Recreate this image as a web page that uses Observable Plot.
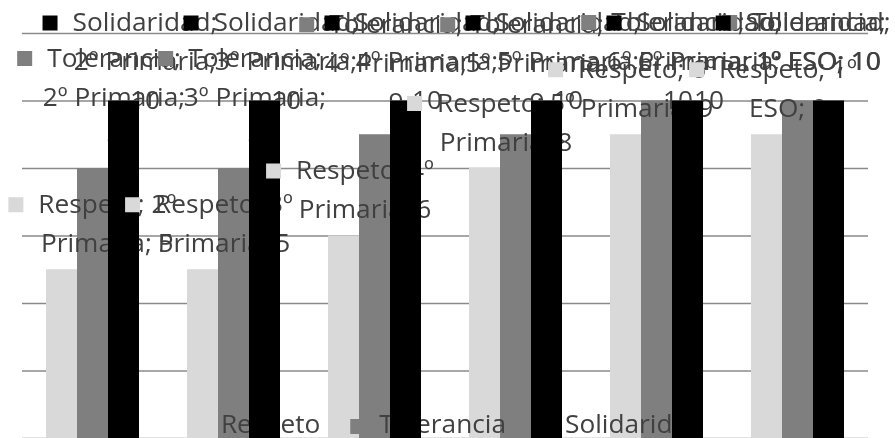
<!DOCTYPE html>
<html><head><meta charset="utf-8">
<script src="https://cdn.jsdelivr.net/npm/d3@7"></script>
<script src="https://cdn.jsdelivr.net/npm/@observablehq/plot@0.6"></script>
<style>html,body{margin:0;padding:0;background:#fff;overflow:hidden}</style>
</head><body><div id="chart"></div>
<script>
// ---- data ----
const categories = ["2º Primaria", "3º Primaria", "4º Primaria", "5º Primaria", "6º Primaria", "1º ESO"];
const seriesNames = ["Respeto", "Tolerancia", "Solidaridad"];
const respeto = [5, 5, 6, 8, 9, 9];
const tolerancia = [8, 8, 9, 9, 10, 10];
const solidaridad = [10, 10, 10, 10, 10, 10];
const yTicks = [0, 2, 4, 6, 8, 10, 12];
const seriesColors = ["#d9d9d9", "#7f7f7f", "#000000"];

// ---- layout ----
const W = 895, H = 438, ML = 20, MR = 25, MT = 33, MB = 0;
const YMAX = 12, OUTER = 0.77;
const FONT = '"Open Sans", "Noto Sans", sans-serif';
const TEXT = "#404040";
const ctx = document.createElement("canvas").getContext("2d");
function measure(t, size) { ctx.font = `${size}px ${FONT}`; return ctx.measureText(t).width; }
const fontSize = 100 * 145 / measure("Solidaridad;", 100);
const mw = t => measure(t, fontSize);

const valuesBySeries = [respeto, tolerancia, solidaridad];
const rows = categories.flatMap((cat, i) => seriesNames.map((s, j) => ({cat, series: s, value: valuesBySeries[j][i], i, j})));

const step = (W - ML - MR) / categories.length;
const bw = step / (seriesNames.length + 2 * OUTER);
const barCenter = (i, j) => ML + i * step + (OUTER + j + 0.5) * bw;
const yPix = v => MT + (YMAX - v) / YMAX * (H - MT - MB);

function wrap(text, maxW) {
  const words = text.split(" "); const lines = []; let cur = "";
  for (const w of words) {
    const test = cur ? cur + " " + w : w;
    if (!cur || mw(test) <= maxW) cur = test; else { lines.push(cur); cur = w; }
  }
  if (cur) lines.push(cur);
  return lines;
}

// offset of the first label line above the bar top, per series
const topOffset = {Respeto: -65, Tolerancia: -110, Solidaridad: -78};
const LH = 39, CDX = 21, KEY = 15, KGAP = 15, TOPMIN = 22, LEFTMIN = 6, RIGHTMAX = 892, WRAPW = 160;
const keyR = KEY / Math.sqrt(Math.PI);
const textStyle = {fill: TEXT, fontSize, mixBlendMode: "darken", lineAnchor: "middle"};

const labelMarks = [];
for (const d of rows) {
  const lines = wrap(`${d.series}; ${d.cat}; ${d.value}`, WRAPW);
  const widths = lines.map(mw);
  const bx = barCenter(d.i, d.j), by = yPix(d.value);
  let ly0 = Math.max(by + topOffset[d.series], TOPMIN);
  let cx = bx + CDX;
  const maxW = Math.max(...widths);
  const left = Math.min(cx - widths[0] / 2 - KGAP - KEY, cx - maxW / 2);
  if (left < LEFTMIN) cx += LEFTMIN - left;
  const right = cx + maxW / 2;
  if (right > RIGHTMAX) cx -= right - RIGHTMAX;
  labelMarks.push(Plot.dot([d], {
    fx: "cat", x: "series", y: "value", symbol: "square", r: keyR,
    fill: seriesColors[d.j], stroke: "none",
    dx: cx - widths[0] / 2 - KGAP - KEY / 2 - bx, dy: ly0 - by
  }));
  lines.forEach((line, k) => {
    labelMarks.push(Plot.text([d], {
      fx: "cat", x: "series", y: "value", text: () => line,
      dx: cx - bx, dy: ly0 + k * LH - by, textAnchor: "middle", ...textStyle
    }));
  });
}

// legend (drawn inside the chart area, anchored to the first facet)
const legendMarks = [];
{
  const GAPK = 14, GAPI = 30;
  const ws = seriesNames.map(mw);
  const total = ws.reduce((a, b) => a + b, 0) + seriesNames.length * (KEY + GAPK) + (seriesNames.length - 1) * GAPI;
  let x = (ML + W - MR) / 2 - total / 2;
  const anchor = [{cat: categories[0]}];
  seriesNames.forEach((s, j) => {
    legendMarks.push(Plot.dot(anchor, {fx: "cat", frameAnchor: "bottom-left", symbol: "square", r: keyR,
      fill: seriesColors[j], stroke: "none", dx: x + KEY / 2 - ML, dy: -12}));
    x += KEY + GAPK;
    legendMarks.push(Plot.text(anchor, {fx: "cat", frameAnchor: "bottom-left", text: () => s,
      textAnchor: "start", dx: x - ML, dy: -14, ...textStyle}));
    x += ws[j] + GAPI;
  });
}

const chart = Plot.plot({
  width: W, height: H, marginLeft: ML, marginRight: MR, marginTop: MT, marginBottom: MB,
  style: {fontFamily: FONT, background: "#fff", overflow: "visible"},
  fx: {domain: categories, padding: 0, axis: null, label: null},
  x: {domain: seriesNames, paddingInner: 0, paddingOuter: OUTER, axis: null, label: null},
  y: {domain: [0, YMAX], axis: null, label: null},
  color: {domain: seriesNames, range: seriesColors},
  marks: [
    Plot.ruleY(yTicks, {stroke: "#8a8a8a", strokeWidth: 1.3}),
    Plot.barY(rows, {fx: "cat", x: "series", y: "value", fill: "series", insetLeft: 0, insetRight: 0}),
    ...legendMarks,
    ...labelMarks
  ]
});
document.getElementById("chart").appendChild(chart);
</script>
</body></html>
